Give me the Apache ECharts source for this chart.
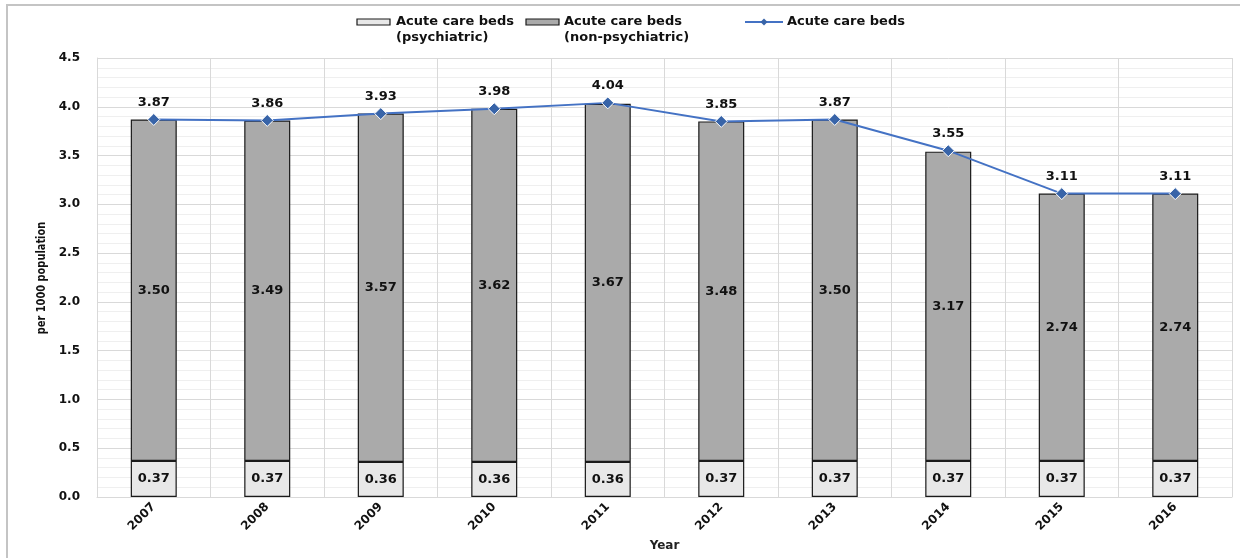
<!DOCTYPE html>
<html>
<head>
<meta charset="utf-8">
<script src="https://cdn.jsdelivr.net/npm/echarts@6/dist/echarts.min.js"></script>
<style>
html,body{margin:0;padding:0;background:#fff;}
#wrap{position:relative;width:1249px;height:558px;overflow:hidden;}
#frame{position:absolute;left:6px;top:4px;width:1234px;height:600px;border-left:2px solid #c4c4c4;border-top:2px solid #c4c4c4;box-sizing:border-box;}
#chart{position:absolute;left:0;top:0;width:1249px;height:558px;}
</style>
</head>
<body>
<div id="wrap"><div id="frame"></div><div id="chart"></div></div>
<script>
const years = ['2007','2008','2009','2010','2011','2012','2013','2014','2015','2016'];
const psychiatric = [0.37,0.37,0.36,0.36,0.36,0.37,0.37,0.37,0.37,0.37];
const nonPsychiatric = [3.50,3.49,3.57,3.62,3.67,3.48,3.50,3.17,2.74,2.74];
const total = [3.87,3.86,3.93,3.98,4.04,3.85,3.87,3.55,3.11,3.11];
const yTicks = [0,0.5,1.0,1.5,2.0,2.5,3.0,3.5,4.0,4.5];

const FONT = 'DejaVu Sans';
const chart = echarts.init(document.getElementById('chart'), null, {renderer:'canvas'});
const lbl = {show:true, color:'#111', fontFamily:FONT, fontWeight:'bold', fontSize:13, formatter:p=>p.value.toFixed(2)};

function legendText(x, y, lines){
  return lines.map((t,i)=>({type:'text', left:x, top:y+i*16, style:{text:t, fill:'#111', font:'bold 13px "DejaVu Sans"'}}));
}

chart.setOption({
  animation:false,
  grid:{left:97, right:17, top:58, bottom:61},
  xAxis:{
    type:'category', data:years,
    axisLine:{show:true, lineStyle:{color:'#d9d9d9'}},
    axisTick:{show:false},
    splitLine:{show:true, lineStyle:{color:'#d9d9d9', width:1}},
    axisLabel:{rotate:45, color:'#111', fontFamily:FONT, fontWeight:'bold', fontSize:12, margin:8},
    name:'Year', nameLocation:'middle', nameGap:41,
    nameTextStyle:{color:'#222', fontFamily:FONT, fontWeight:'bold', fontSize:12}
  },
  yAxis:{
    type:'value', min:0, max:4.5, interval:0.5,
    axisLine:{show:true, lineStyle:{color:'#d9d9d9'}},
    axisTick:{show:false},
    splitLine:{show:true, lineStyle:{color:'#d9d9d9'}},
    minorTick:{show:false, splitNumber:5},
    minorSplitLine:{show:true, lineStyle:{color:'#efefef'}},
    axisLabel:{color:'#111', fontFamily:FONT, fontWeight:'bold', fontSize:12, margin:17,
      formatter:v=>{const t=yTicks.find(x=>Math.abs(x-v)<1e-9); return (t!==undefined?t:v).toFixed(1);}}
  },
  series:[
    {name:'Acute care beds (psychiatric)', type:'bar', stack:'beds', data:psychiatric, barWidth:46,
      itemStyle:{color:'#e8e8e8', borderColor:'#1a1a1a', borderWidth:1.2},
      label:Object.assign({position:'inside'}, lbl)},
    {name:'Acute care beds (non-psychiatric)', type:'bar', stack:'beds', data:nonPsychiatric, barWidth:46,
      itemStyle:{color:'#aaaaaa', borderColor:'#1a1a1a', borderWidth:1.2},
      label:Object.assign({position:'inside'}, lbl)},
    {name:'Acute care beds', type:'line', data:total, symbol:'diamond', symbolSize:12,
      lineStyle:{color:'#4472c4', width:2},
      itemStyle:{color:'#3864a8', borderColor:'#ffffff', borderWidth:1},
      label:Object.assign({position:'top', distance:4}, lbl), z:5}
  ],
  graphic:[
    {type:'text', x:42, y:278, rotation:Math.PI/2, scaleX:0.82,
      style:{text:'per 1000 population', fill:'#111', font:'bold 12px "DejaVu Sans"', align:'center', verticalAlign:'middle'}},
    {type:'rect', shape:{x:357, y:19, width:33, height:6}, style:{fill:'#e8e8e8', stroke:'#1a1a1a', lineWidth:1.2}},
    ...legendText(396, 15, ['Acute care beds','(psychiatric)']),
    {type:'rect', shape:{x:526, y:19, width:33, height:6}, style:{fill:'#aaaaaa', stroke:'#1a1a1a', lineWidth:1.2}},
    ...legendText(564, 15, ['Acute care beds','(non-psychiatric)']),
    {type:'line', shape:{x1:745, y1:22, x2:783, y2:22}, style:{stroke:'#4472c4', lineWidth:2}},
    {type:'polygon', shape:{points:[[764,18.5],[767.5,22],[764,25.5],[760.5,22]]}, style:{fill:'#3864a8'}},
    ...legendText(787, 15, ['Acute care beds'])
  ]
});
</script>
</body>
</html>
